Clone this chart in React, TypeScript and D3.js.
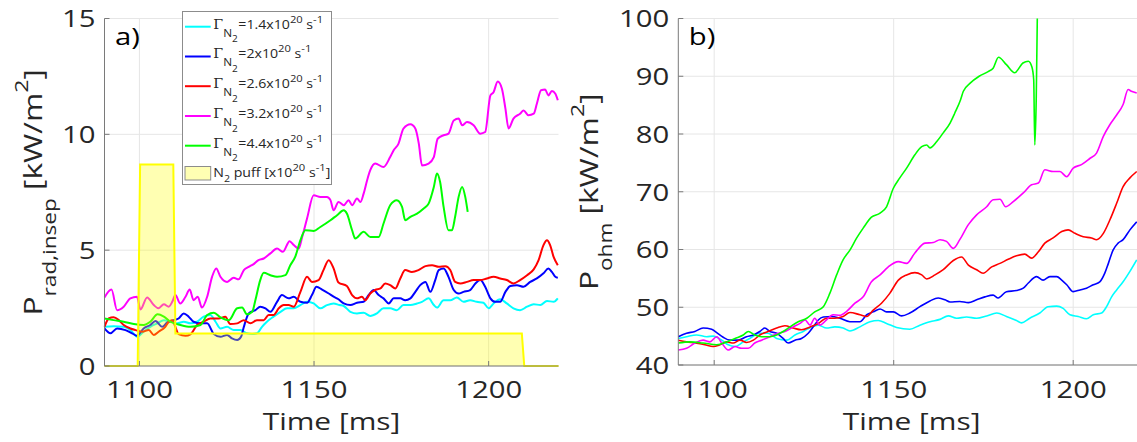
import React from "react";
import * as d3 from "d3";

// ---------- data ----------
const timeTicks = [1100, 1150, 1200];
const radTicks = [0, 5, 10, 15];
const ohmTicks = [40, 50, 60, 70, 80, 90, 100];
const rateLabels = ["1.4", "2", "2.6", "3.2", "4.4"];
const seriesColors = ["#00ffff", "#0000ff", "#ff0000", "#ff00ff", "#00ff00"];

const puffT = [1090, 1099.5, 1100.2, 1109.7, 1110.3, 1209.5, 1210.2, 1220];
const puffV = [0, 0, 8.7, 8.7, 1.4, 1.4, 0, 0];

const radCyan: [number, number][] = [[1090,1.69],[1092.6,1.72],[1095.5,1.69],[1097.9,1.48],[1099.3,1.26],[1101.2,1.48],[1103.1,1.69],[1105.1,1.84],[1107,1.98],[1108.9,1.91],[1110.8,1.84],[1112.7,1.91],[1114.6,1.84],[1116.5,1.91],[1118.4,2.13],[1120.3,2.2],[1121.8,1.91],[1123.2,1.62],[1125.1,1.69],[1127,1.55],[1128.9,1.55],[1130.8,1.41],[1132.3,1.38],[1133.7,1.41],[1135.1,1.69],[1136.5,1.91],[1138.4,2.13],[1140.4,2.34],[1142.3,2.49],[1144.2,2.49],[1146.1,2.63],[1148,2.77],[1149.9,2.7],[1151.8,2.49],[1153.7,2.63],[1155.6,2.7],[1157.3,2.63],[1158.5,2.59],[1160.4,2.34],[1162.3,2.27],[1164.2,2.3],[1166.1,2.16],[1168,2.27],[1169.9,2.49],[1171.8,2.49],[1173.7,2.41],[1175.6,2.63],[1177.6,2.63],[1179.5,2.7],[1180.9,2.77],[1182.8,2.92],[1184.3,2.63],[1185.2,2.52],[1187.1,2.84],[1189,2.84],[1190.9,2.96],[1192.8,2.77],[1194.7,2.84],[1196.6,2.77],[1198.5,2.73],[1200,2.49],[1201.4,2.7],[1203.3,2.88],[1205.2,2.7],[1207.1,2.49],[1209,2.41],[1211,2.56],[1212.9,2.67],[1214.8,2.63],[1216.7,2.81],[1218.6,2.77],[1219.8,2.92]];
const radBlue: [number, number][] = [[1090,1.62],[1091.7,1.41],[1093.6,1.62],[1096,1.55],[1097.9,1.41],[1099.3,1.31],[1101.2,1.62],[1103.1,1.77],[1104.6,1.94],[1106.5,1.69],[1107.9,1.87],[1109.8,1.98],[1111.2,2.05],[1112.7,2.27],[1114.1,2.13],[1115.5,1.91],[1117.5,1.84],[1119.4,1.84],[1121.3,1.38],[1123.2,1.26],[1125.1,1.34],[1126.5,1.19],[1128,1.12],[1129.1,1.26],[1129.9,1.69],[1131.3,2.27],[1133.2,2.41],[1134.6,2.56],[1136.1,2.49],[1137.5,2.34],[1139.4,2.77],[1140.8,3.06],[1142.7,2.92],[1144.2,2.99],[1146.1,2.77],[1148,2.73],[1149.4,3.06],[1150.7,3.42],[1152.3,3.3],[1154.2,3.13],[1155.6,2.99],[1157,2.88],[1158.5,2.7],[1160.4,2.63],[1162.3,2.73],[1164.2,2.77],[1165.6,3.06],[1167.1,3.28],[1168.5,3.06],[1169.9,2.92],[1171.4,2.7],[1172.8,2.92],[1174.7,2.92],[1176.1,2.84],[1177.6,2.92],[1179,3.2],[1180.4,3.49],[1181.9,3.63],[1183.3,3.2],[1184.7,3.71],[1185.7,4.14],[1187.1,4.21],[1188.5,3.85],[1190,3.28],[1191.4,3.13],[1192.8,3.2],[1194.7,3.28],[1196.2,3.56],[1197.6,3.71],[1199,3.42],[1200.5,2.92],[1201.9,2.77],[1203.3,2.77],[1204.8,3.2],[1206.2,3.45],[1208.1,3.49],[1210,3.42],[1211.9,3.63],[1213.8,3.78],[1215.7,4.0],[1217.1,4.21],[1218.1,4.06],[1219.1,3.85],[1219.8,3.81]];
const radRed: [number, number][] = [[1090,1.69],[1091.2,2.05],[1092.6,2.1],[1094.1,1.98],[1095.5,1.77],[1097.4,1.62],[1098.9,1.55],[1100.8,1.48],[1102.7,1.55],[1104.1,1.34],[1105.5,1.48],[1107.4,1.69],[1108.4,1.91],[1109.4,1.98],[1110.3,1.69],[1111.2,1.38],[1113.2,1.31],[1114.6,1.37],[1116.5,1.77],[1118.4,1.91],[1120.3,2.05],[1122.7,2.05],[1124.6,2.13],[1126,1.81],[1128,1.84],[1129.9,1.98],[1131.8,1.84],[1133.7,1.98],[1135.6,1.98],[1137,2.2],[1138.4,2.2],[1139.9,2.49],[1141.3,2.63],[1142.7,2.63],[1144.2,2.56],[1146.1,3.2],[1148,3.85],[1149.4,3.63],[1151.3,3.71],[1152.7,4.14],[1154.2,4.57],[1155.6,4.21],[1157,3.6],[1159.4,3.45],[1160.9,3.06],[1162.3,2.92],[1163.7,2.99],[1164.7,2.84],[1166.1,3.13],[1167.5,3.28],[1169,3.35],[1170.4,3.56],[1171.8,3.49],[1173.3,3.35],[1174.7,3.78],[1176.1,4.14],[1178,4.06],[1179.9,4.14],[1181.9,4.31],[1183.8,4.35],[1185.7,4.28],[1187.6,4.31],[1189,4.14],[1190.4,3.63],[1191.9,3.56],[1193.8,3.63],[1195.7,3.71],[1197.6,3.71],[1199.5,3.78],[1201.4,3.85],[1203.3,3.78],[1205.2,3.71],[1207.1,3.56],[1209,3.71],[1211,3.92],[1212.9,4.17],[1214.3,4.57],[1215.7,5.22],[1216.7,5.43],[1217.6,5.22],[1218.6,4.71],[1219.8,4.35]];
const radMagenta: [number, number][] = [[1090,2.96],[1092,3.3],[1093.6,2.41],[1095.5,2.56],[1097.4,2.92],[1099.3,2.99],[1100.3,2.44],[1102.2,2.96],[1104.1,2.63],[1105.5,2.49],[1107,2.67],[1108.4,2.56],[1109.4,2.77],[1110.3,3.06],[1111.7,2.7],[1113.2,2.99],[1114.4,3.3],[1115.5,2.84],[1116.7,2.99],[1117.9,2.52],[1119.4,2.99],[1120.8,3.85],[1122,4.21],[1123.2,3.85],[1125.1,3.63],[1127,3.81],[1128.4,3.74],[1129.9,4.14],[1131.3,4.28],[1132.7,4.4],[1134.1,4.57],[1135.6,4.64],[1137.5,4.86],[1139.4,5.07],[1141.1,4.93],[1143,5.39],[1144.2,5.22],[1145.6,5.07],[1146.6,5.57],[1148,6.37],[1149.9,7.37],[1151.8,7.3],[1153.7,7.3],[1154.7,7.16],[1155.6,6.72],[1157,7.08],[1158.5,6.94],[1159.9,7.16],[1160.9,6.94],[1162.3,7.23],[1163.3,7.08],[1164.2,7.44],[1165.2,8.02],[1166.1,8.45],[1167.5,8.74],[1169.9,8.59],[1171.8,9.02],[1172.8,9.31],[1174.2,9.6],[1175.6,10.25],[1177.6,10.43],[1179,10.25],[1180,9.6],[1180.9,8.66],[1182.8,8.74],[1184.3,9.02],[1185.4,9.81],[1187.1,9.96],[1188.5,10.03],[1190,10.6],[1191.4,10.68],[1192.4,10.39],[1193.8,10.53],[1195.7,10.39],[1197.6,10.03],[1199,10.1],[1200.5,11.68],[1201.4,11.82],[1202.6,12.28],[1203.8,11.97],[1204.8,11.11],[1205.7,10.25],[1207.1,10.68],[1209,10.89],[1210,11.03],[1211.4,10.82],[1212.9,10.89],[1213.8,11.32],[1215,11.9],[1216.2,11.93],[1217.1,11.68],[1218.1,11.87],[1219.1,11.75],[1219.8,11.47]];
const radGreen: [number, number][] = [[1090,2.05],[1092.6,1.98],[1095.5,1.91],[1098.4,1.81],[1101.2,1.77],[1103.1,1.91],[1105.2,2.23],[1107,2.13],[1108.9,1.91],[1111.7,1.77],[1114.6,1.69],[1117.5,1.77],[1119.4,2.2],[1121.3,2.3],[1123.2,2.1],[1125.6,1.98],[1128,2.49],[1129.4,2.52],[1130.8,2.23],[1132.3,2.34],[1133.2,2.84],[1134.6,3.71],[1135.6,4.02],[1137.5,3.92],[1139.4,3.85],[1141.8,3.92],[1143.2,4.35],[1144.6,4.71],[1146.1,5.43],[1147.5,5.86],[1149.9,5.83],[1151.8,6.0],[1154.7,6.29],[1156.6,6.51],[1158.5,6.72],[1159.4,6.58],[1160.9,5.86],[1161.8,5.5],[1164.2,5.79],[1166.1,5.57],[1168.5,5.57],[1169.9,6.15],[1171.8,6.94],[1173.7,7.16],[1175.2,6.87],[1176.1,6.29],[1177.6,6.44],[1179.5,6.58],[1181.4,6.8],[1182.8,7.01],[1184.3,7.73],[1185.2,8.31],[1186.1,7.94],[1187.1,6.87],[1188.5,5.86],[1189.5,5.86],[1190.4,6.44],[1191.4,7.3],[1192.4,7.73],[1193.3,7.3],[1194,6.65]];

const ohmCyan: [number, number][] = [[1090,44.6],[1092.3,44.9],[1095.1,45.2],[1097.9,44.9],[1099.7,45.0],[1102.1,44.3],[1103.9,43.5],[1105.8,43.2],[1108.1,44.0],[1109.9,44.6],[1112.7,45.5],[1115,45.5],[1117.4,44.6],[1120.2,44.3],[1122.5,45.2],[1124.8,45.8],[1127.1,46.6],[1129,46.9],[1131.3,46.4],[1133.6,46.6],[1135.9,46.4],[1137.8,45.9],[1140.6,46.6],[1143.4,47.5],[1145.7,47.7],[1148,47.2],[1150.8,46.5],[1154.5,46.2],[1157.3,46.9],[1160.1,47.5],[1162.9,47.9],[1165.2,48.5],[1167.5,48.1],[1170.3,48.3],[1173.1,48.1],[1175.9,48.5],[1178.7,49.0],[1181.4,48.4],[1184.2,47.7],[1185.6,47.3],[1187.9,48.1],[1190.7,49.0],[1193,50.1],[1195.4,50.2],[1197.2,49.8],[1199.1,48.7],[1201.4,48.4],[1203.7,48.0],[1205.6,48.7],[1207.9,49.0],[1209.3,50.1],[1210.7,51.8],[1212.1,53.0],[1213.9,54.4],[1215.8,56.2],[1217.7,58.2]];
const ohmBlue: [number, number][] = [[1090,44.9],[1092.3,45.5],[1094.6,45.8],[1096.9,46.4],[1099.3,46.2],[1100.7,45.6],[1102.5,44.8],[1104.4,44.3],[1106.7,44.3],[1109,44.9],[1110.9,45.2],[1112.7,45.8],[1114.1,46.4],[1115.5,45.8],[1117.4,45.5],[1119.2,44.6],[1120.6,43.8],[1122.5,44.3],[1124.3,44.6],[1126.2,45.5],[1127.6,46.6],[1129,47.8],[1130.4,48.3],[1132.7,48.4],[1135,48.1],[1137.8,47.5],[1140.6,47.5],[1142.5,48.7],[1144.3,49.2],[1146.2,49.7],[1148,49.2],[1149.9,49.2],[1152.2,48.5],[1154.5,49.0],[1157.3,50.1],[1160.1,51.1],[1162.4,51.6],[1164.3,51.3],[1165.7,50.9],[1168.4,51.0],[1170.8,50.8],[1173.1,51.3],[1175.4,51.8],[1177.7,52.1],[1179.1,51.6],[1181.4,52.7],[1184.2,52.9],[1186.1,53.3],[1187.5,54.2],[1189.8,55.3],[1191.6,54.7],[1193.5,55.3],[1195.4,55.3],[1196.8,54.7],[1198.2,53.9],[1200,52.7],[1201.9,53.0],[1203.7,53.3],[1205.6,53.9],[1207.4,54.4],[1208.8,55.9],[1209.8,57.6],[1211.1,59.9],[1212.5,61.1],[1213.9,61.7],[1215.8,63.4],[1217.7,64.8]];
const ohmRed: [number, number][] = [[1090,44.3],[1092.3,44.0],[1094.6,43.8],[1097.4,43.5],[1099.7,43.2],[1101.6,43.5],[1103.5,44.0],[1105.3,43.8],[1107.2,44.3],[1109,43.9],[1110.9,44.3],[1112.7,45.2],[1115,45.8],[1117.4,46.4],[1119.7,46.8],[1122,46.4],[1124.3,46.1],[1126.7,46.6],[1129,47.2],[1131.3,48.1],[1133.6,48.1],[1135.9,48.4],[1137.8,49.1],[1140.6,48.7],[1142.5,48.4],[1144.3,49.5],[1146.6,50.7],[1148.9,52.4],[1151.3,54.7],[1153.6,55.6],[1155.9,56.0],[1157.8,55.6],[1159.2,54.9],[1161.5,55.6],[1163.8,56.5],[1166.6,58.1],[1168.9,58.7],[1170.8,57.3],[1173.1,56.5],[1174.9,55.9],[1177.3,57.0],[1179.6,57.6],[1181.9,58.3],[1184.2,58.9],[1186.5,59.2],[1188.4,58.5],[1190.3,59.6],[1192.1,61.1],[1194.4,62.0],[1196.8,63.1],[1198.6,63.4],[1200.5,62.8],[1202.8,62.2],[1205.1,62.0],[1206.5,61.7],[1208.4,62.8],[1210.2,65.1],[1212.1,68.0],[1213.9,70.9],[1215.8,72.4],[1217.7,73.5]];
const ohmMagenta: [number, number][] = [[1090,42.6],[1092.3,42.9],[1094.6,43.8],[1096.9,44.3],[1098.8,44.0],[1100.7,44.9],[1102.1,43.8],[1103.9,42.6],[1105.8,43.2],[1107.6,42.9],[1109.5,42.9],[1111.3,43.8],[1113.2,44.3],[1115.5,44.9],[1117.8,45.5],[1119.7,45.8],[1122,46.6],[1123.9,47.2],[1125.3,47.8],[1126.7,46.9],[1128,48.1],[1129.4,46.9],[1131.3,47.8],[1133.1,48.7],[1135,48.6],[1136.9,49.3],[1139.2,50.7],[1141.5,51.8],[1143.8,54.4],[1146.2,55.6],[1148.5,57.0],[1151.3,57.9],[1153.6,57.6],[1155.9,59.4],[1158.7,61.1],[1161,61.2],[1162.9,61.7],[1164.7,61.4],[1166.6,60.2],[1168.4,61.7],[1170.8,64.3],[1173.1,66.0],[1175.9,67.4],[1177.7,68.6],[1179.6,68.7],[1181.2,67.4],[1183.3,68.3],[1186.1,69.8],[1188.4,71.2],[1190.3,71.5],[1192.1,73.8],[1194.4,73.5],[1196.3,73.5],[1198.2,72.6],[1200,74.1],[1202.3,74.7],[1204.7,75.8],[1206.5,76.7],[1208.4,79.6],[1210.2,81.6],[1212.1,83.3],[1213.9,85.1],[1215.3,87.7],[1216.2,87.4],[1217.7,87.1]];
const ohmGreen: [number, number][] = [[1090,43.8],[1093.2,44.0],[1096.9,43.8],[1100.7,43.5],[1103.5,44.0],[1105.8,44.6],[1108.1,45.2],[1109.5,45.8],[1111.3,45.2],[1113.2,44.9],[1115.5,44.9],[1117.4,45.2],[1119.2,45.8],[1121.1,46.6],[1123.4,47.5],[1125.8,48.1],[1128,49.2],[1130.4,50.1],[1132.2,52.4],[1134.1,55.6],[1135.9,58.2],[1137.8,59.9],[1139.7,62.0],[1141.5,63.7],[1143.8,65.6],[1146.2,66.3],[1148,67.4],[1149.9,70.6],[1151.7,72.4],[1153.6,74.1],[1155.9,76.4],[1157.8,77.8],[1159.2,78.1],[1160.1,77.6],[1162,78.7],[1163.8,80.2],[1165.7,81.9],[1167,83.6],[1168.6,85.9],[1169.4,87.4],[1171.3,88.8],[1173.8,90.0],[1176.3,90.8],[1177.7,91.4],[1179.2,93.3],[1181.4,92.0],[1183.7,90.6],[1186,92.3],[1187.5,92.6],[1188.5,91.6],[1189.0,89.4],[1189.3,78.1],[1189.7,86.0],[1190.0,100.0],[1190.1,104.0]];

const radSeries = [radCyan, radBlue, radRed, radMagenta, radGreen];
const ohmSeries = [ohmCyan, ohmBlue, ohmRed, ohmMagenta, ohmGreen];

// ---------- styling ----------
const FONT = "'Open Sans', 'Noto Sans', sans-serif";
const SERIF = "'DejaVu Serif', 'Liberation Serif', serif";
const SX = 1.22;
const TXT = "#262626";
const GRID = "#e6e6e6";
const AXIS = "#7a7a7a";

function T(props: any) {
  const { x, y, rot = 0, sx = SX, size, anchor = "start", fill = TXT, family = FONT, children } = props;
  return (
    <text
      transform={`translate(${x},${y}) rotate(${rot}) scale(${sx},1)`}
      fontSize={size}
      textAnchor={anchor}
      fill={fill}
      fontFamily={family}
    >
      {children}
    </text>
  );
}

function Panel(props: any) {
  const { x, y, yTicks, series, lw, id, label, yLabel, puff } = props;
  const [x0, x1] = x.range();
  const [yb, yt] = y.range();
  const line = d3
    .line<[number, number]>()
    .x((d) => x(d[0]))
    .y((d) => y(d[1]))
    .curve(d3.curveMonotoneX);
  let puffArea: string | null = null;
  let puffLine: string | null = null;
  if (puff) {
    const pts: [number, number][] = puffT.map((t, i) => [t, puffV[i]]);
    puffArea = d3
      .area<[number, number]>()
      .x((d) => x(d[0]))
      .y0(y(0))
      .y1((d) => y(d[1]))(pts);
    puffLine = d3
      .line<[number, number]>()
      .x((d) => x(d[0]))
      .y((d) => y(d[1]))(pts);
  }
  return (
    <g>
      <defs>
        <clipPath id={id}>
          <rect x={x0 - 1} y={yt} width={x1 - x0 + 2} height={yb - yt + 2} />
        </clipPath>
      </defs>
      {/* grid */}
      {timeTicks.map((t) => (
        <line key={"gx" + t} x1={x(t)} x2={x(t)} y1={yb} y2={yt} stroke={GRID} strokeWidth={1} />
      ))}
      {yTicks.map((v: number) => (
        <line key={"gy" + v} x1={x0} x2={x1} y1={y(v)} y2={y(v)} stroke={GRID} strokeWidth={1} />
      ))}
      <g clipPath={`url(#${id})`}>
        {series.map((s: [number, number][], i: number) => (
          <path key={i} d={line(s) || ""} fill="none" stroke={seriesColors[i]} strokeWidth={lw} strokeLinejoin="round" />
        ))}
        {puff && (
          <g>
            <path d={puffArea || ""} fill="#ffff00" fillOpacity={0.3} stroke="none" />
            <path d={puffLine || ""} fill="none" stroke="#ffff00" strokeWidth={2} />
          </g>
        )}
      </g>
      {/* axes */}
      <line x1={x0} x2={x1} y1={yb} y2={yb} stroke={AXIS} strokeWidth={1} />
      <line x1={x0} x2={x0} y1={yb} y2={yt} stroke={AXIS} strokeWidth={1} />
      {timeTicks.map((t) => (
        <line key={"tx" + t} x1={x(t)} x2={x(t)} y1={yb} y2={yb - 5} stroke={AXIS} strokeWidth={1} />
      ))}
      {yTicks.map((v: number) => (
        <line key={"ty" + v} x1={x0} x2={x0 + 5} y1={y(v)} y2={y(v)} stroke={AXIS} strokeWidth={1} />
      ))}
      {timeTicks.map((t) => (
        <T key={"lx" + t} x={x(t)} y={398} size={24} anchor="middle">
          {String(t)}
        </T>
      ))}
      {yTicks.map((v: number) => (
        <T key={"ly" + v} x={x0 - 9} y={y(v) + 8.8} size={24} anchor="end">
          {String(v)}
        </T>
      ))}
      <T x={(x0 + x1) / 2} y={430} size={24.5} anchor="middle">
        Time [ms]
      </T>
      <T x={x0 + 10.5} y={45} size={24} fill="#000">
        {label}
      </T>
      {yLabel}
    </g>
  );
}

function Legend() {
  const bx = 182.5, by = 11.5, bw = 149, bh = 173;
  const rowY = [26.7, 56.5, 86.2, 116, 145.7];
  return (
    <g>
      <rect x={bx} y={by} width={bw} height={bh} fill="#ffffff" stroke="#8c8c8c" strokeWidth={1} />
      {rateLabels.map((r, i) => (
        <g key={r}>
          <line x1={185} x2={210.7} y1={rowY[i]} y2={rowY[i]} stroke={seriesColors[i]} strokeWidth={2} />
          <text
            transform={`translate(213.3,${rowY[i] + 1.8}) scale(1.18,1)`}
            fontSize={12}
            fill={TXT}
            fontFamily={FONT}
          >
            <tspan fontFamily={SERIF}>Γ</tspan>
            <tspan fontSize={10} dy={8}>N</tspan>
            <tspan fontSize={8.5} dy={6}>2</tspan>
            <tspan fontSize={12} dy={-14} dx={0.5}>{"=" + r + "x10"}</tspan>
            <tspan fontSize={9.5} dy={-6}>20</tspan>
            <tspan fontSize={12} dy={6}>{" s"}</tspan>
            <tspan fontSize={9.5} dy={-6}>-1</tspan>
          </text>
        </g>
      ))}
      <rect x={185} y={166.5} width={25.7} height={13.5} fill="#ffffb3" stroke="#8c8c8c" strokeWidth={1} />
      <text transform={`translate(213.3,176.7) scale(1.18,1)`} fontSize={12} fill={TXT} fontFamily={FONT}>
        <tspan>N</tspan>
        <tspan fontSize={9} dy={5}>2</tspan>
        <tspan fontSize={12} dy={-5}>{" puff [x10"}</tspan>
        <tspan fontSize={9.5} dy={-6}>20</tspan>
        <tspan fontSize={12} dy={6}>{" s"}</tspan>
        <tspan fontSize={9.5} dy={-6}>-1</tspan>
        <tspan fontSize={12} dy={6}>]</tspan>
      </text>
    </g>
  );
}

export default function App() {
  const xL = d3.scaleLinear().domain([1090, 1220]).range([104.5, 558.5]);
  const yL = d3.scaleLinear().domain([0, 15]).range([366, 18.5]);
  const xR = d3.scaleLinear().domain([1090, 1220]).range([678.3, 1145]);
  const yR = d3.scaleLinear().domain([40, 100]).range([365, 18.5]);

  const yLabelL = (
    <text
      transform={`translate(42.3,${(366 + 18.5) / 2}) rotate(-90) scale(${SX},1)`}
      fontSize={26}
      textAnchor="middle"
      fill={TXT}
      fontFamily={FONT}
    >
      <tspan>P</tspan>
      <tspan fontSize={18.5} dy={14}>rad,insep</tspan>
      <tspan fontSize={26} dy={-14}>{" [kW/m"}</tspan>
      <tspan fontSize={19} dy={-14}>2</tspan>
      <tspan fontSize={26} dy={14}>]</tspan>
    </text>
  );
  const yLabelR = (
    <text
      transform={`translate(598.3,${(365 + 18.5) / 2}) rotate(-90) scale(${SX},1)`}
      fontSize={26}
      textAnchor="middle"
      fill={TXT}
      fontFamily={FONT}
    >
      <tspan>P</tspan>
      <tspan fontSize={18.5} dy={14}>ohm</tspan>
      <tspan fontSize={26} dy={-14}>{" [kW/m"}</tspan>
      <tspan fontSize={19} dy={-14}>2</tspan>
      <tspan fontSize={26} dy={14}>]</tspan>
    </text>
  );

  return (
    <svg
      width={1137}
      height={442}
      viewBox="0 0 1137 442"
      style={{ position: "absolute", left: 0, top: 0, background: "#ffffff", display: "block" }}
    >
      <rect x={0} y={0} width={1137} height={442} fill="#ffffff" />
      <Panel x={xL} y={yL} yTicks={radTicks} series={radSeries} lw={2} id="clipL" label="a)" yLabel={yLabelL} puff />
      <Legend />
      <Panel x={xR} y={yR} yTicks={ohmTicks} series={ohmSeries} lw={1.6} id="clipR" label="b)" yLabel={yLabelR} />
    </svg>
  );
}
